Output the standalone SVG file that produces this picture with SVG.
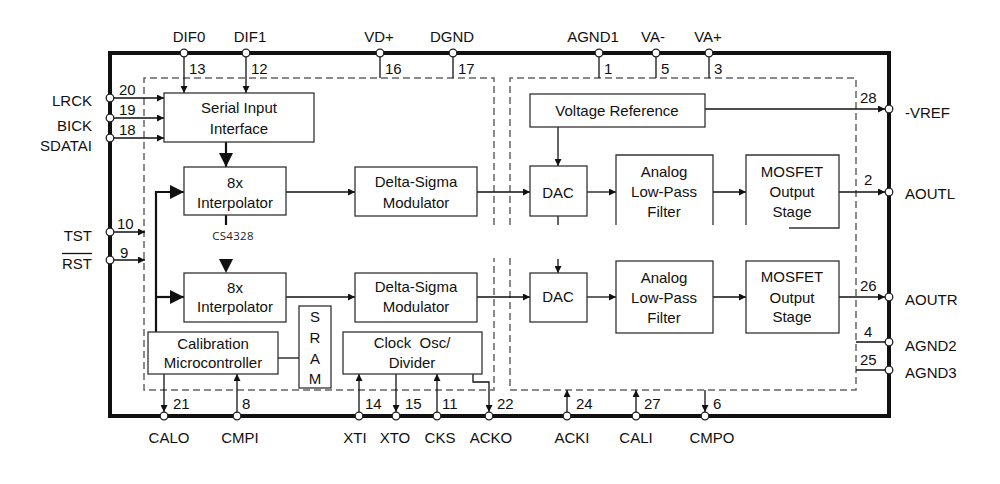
<svg xmlns="http://www.w3.org/2000/svg" width="1000" height="484" viewBox="0 0 1000 484">
<style>
text{font-family:"Liberation Sans",Arial,sans-serif;font-size:15px;fill:#111}
.m{text-anchor:middle}
.e{text-anchor:end}
.box{fill:none;stroke:#333;stroke-width:1.3}
.dash{fill:none;stroke:#666;stroke-width:1.5;stroke-dasharray:7,4}
.ln{fill:none;stroke:#111;stroke-width:1.3}
.thk{fill:none;stroke:#111;stroke-width:2.2}
.pin{fill:#fff;stroke:#222;stroke-width:1.3}
.small{font-family:"Open Sans","Noto Sans",sans-serif;font-size:11.5px;fill:#222;letter-spacing:0.3px}
</style>
<defs>
<marker id="a" viewBox="0 0 10 10" refX="10" refY="5" markerWidth="9" markerHeight="7" markerUnits="userSpaceOnUse" orient="auto"><path d="M0,0L10,5L0,10z" fill="#111"/></marker>
<marker id="A" viewBox="0 0 10 10" refX="10" refY="5" markerWidth="15" markerHeight="14" markerUnits="userSpaceOnUse" orient="auto"><path d="M0,0L10,5L0,10z" fill="#111"/></marker>
</defs>
<rect x="110" y="53" width="779" height="363" fill="none" stroke="#111" stroke-width="4"/>
<path class="dash" d="M494,225V78H144V390H494V258"/>
<path class="dash" d="M510,225V78H856V390H510V258"/>
<g id="connectors">
<path class="ln" d="M184,53V93" marker-end="url(#a)"/>
<path class="ln" d="M246,53V93" marker-end="url(#a)"/>
<path class="ln" d="M380,53V78"/>
<path class="ln" d="M453,53V78"/>
<path class="ln" d="M599,53V78"/>
<path class="ln" d="M656,53V78"/>
<path class="ln" d="M709,53V78"/>
<path class="ln" d="M110,98H164" marker-end="url(#a)"/>
<path class="ln" d="M110,118H164" marker-end="url(#a)"/>
<path class="ln" d="M110,138H164" marker-end="url(#a)"/>
<path class="ln" d="M110,232H145" marker-end="url(#a)"/>
<path class="ln" d="M110,260H145" marker-end="url(#a)"/>
<path class="thk" d="M226,142V167" marker-end="url(#A)"/>
<path class="thk" d="M156,332V192H184" marker-end="url(#A)"/>
<path class="thk" d="M156,297H184" marker-end="url(#A)"/>
<path class="thk" d="M226,215V225"/>
<polygon points="219,259 233,259 226,273" fill="#111"/>
<path class="ln" d="M286,192H355" marker-end="url(#a)"/>
<path class="ln" d="M477,192H530" marker-end="url(#a)"/>
<path class="ln" d="M587,192H616" marker-end="url(#a)"/>
<path class="ln" d="M713,192H746" marker-end="url(#a)"/>
<path class="ln" d="M839,192H885" marker-end="url(#a)"/>
<path class="ln" d="M286,297H355" marker-end="url(#a)"/>
<path class="ln" d="M477,297H530" marker-end="url(#a)"/>
<path class="ln" d="M587,297H616" marker-end="url(#a)"/>
<path class="ln" d="M713,297H746" marker-end="url(#a)"/>
<path class="ln" d="M839,297H885" marker-end="url(#a)"/>
<path class="ln" d="M558,127V166" marker-end="url(#a)"/>
<path class="ln" d="M705,109H885" marker-end="url(#a)"/>
<path class="ln" d="M558,216V225"/>
<path class="ln" d="M558,259V273" marker-end="url(#a)"/>
<path class="ln" d="M278,358H299"/>
<path class="ln" d="M164,374V412" marker-end="url(#a)"/>
<path class="ln" d="M237,416V374" marker-end="url(#a)"/>
<path class="ln" d="M359,416V374" marker-end="url(#a)"/>
<path class="ln" d="M396,374V412" marker-end="url(#a)"/>
<path class="ln" d="M437,416V374" marker-end="url(#a)"/>
<path class="ln" d="M473,374V382H489V412" marker-end="url(#a)"/>
<path class="ln" d="M567,416V390" marker-end="url(#a)"/>
<path class="ln" d="M636,416V390" marker-end="url(#a)"/>
<path class="ln" d="M705,390V412" marker-end="url(#a)"/>
<path class="ln" d="M856,342H889"/>
<path class="ln" d="M856,370H889"/>
</g>
<g id="serial"><rect class="box" x="164" y="93" width="150" height="49"/><text class="m" x="239" y="113">Serial Input</text><text class="m" x="239" y="134">Interface</text></g>
<g id="interp1"><rect class="box" x="184" y="167" width="102" height="48"/><text class="m" x="235" y="188">8x</text><text class="m" x="235" y="208">Interpolator</text><text class="small m" x="233" y="240">CS4328</text></g>
<g id="interp2"><rect class="box" x="184" y="273" width="102" height="49"/><text class="m" x="235" y="293">8x</text><text class="m" x="235" y="312">Interpolator</text></g>
<g id="ds1"><rect class="box" x="355" y="167" width="122" height="49"/><text class="m" x="416" y="187">Delta-Sigma</text><text class="m" x="416" y="208">Modulator</text></g>
<g id="ds2"><rect class="box" x="355" y="273" width="122" height="49"/><text class="m" x="416" y="292">Delta-Sigma</text><text class="m" x="416" y="312">Modulator</text></g>
<g id="dac1"><rect class="box" x="530" y="166" width="57" height="50"/><text class="m" x="558" y="198">DAC</text></g>
<g id="dac2"><rect class="box" x="530" y="273" width="57" height="49"/><text class="m" x="558" y="302">DAC</text></g>
<g id="vref"><rect class="box" x="530" y="94" width="175" height="33"/><text class="m" x="617" y="116">Voltage Reference</text></g>
<g id="alpf1"><path class="box" d="M616,225V155H713V225"/><text class="m" x="664" y="177">Analog</text><text class="m" x="664" y="197">Low-Pass</text><text class="m" x="664" y="217">Filter</text></g>
<g id="alpf2"><rect class="box" x="616" y="261" width="97" height="72"/><text class="m" x="664" y="283">Analog</text><text class="m" x="664" y="303">Low-Pass</text><text class="m" x="664" y="323">Filter</text></g>
<g id="mos1"><path class="box" d="M746,225V155H839V228H789"/><text class="m" x="792" y="177">MOSFET</text><text class="m" x="792" y="197">Output</text><text class="m" x="792" y="217">Stage</text></g>
<g id="mos2"><rect class="box" x="746" y="261" width="93" height="72"/><text class="m" x="792" y="282">MOSFET</text><text class="m" x="792" y="303">Output</text><text class="m" x="792" y="322">Stage</text></g>
<g id="cal"><rect class="box" x="148" y="332" width="130" height="42"/><text class="m" x="213" y="349">Calibration</text><text class="m" x="213" y="368">Microcontroller</text></g>
<g id="sram"><rect class="box" x="299" y="306" width="32" height="82"/><text class="m" x="315" y="322">S</text><text class="m" x="315" y="343">R</text><text class="m" x="315" y="364">A</text><text class="m" x="315" y="384">M</text></g>
<g id="clock"><rect class="box" x="343" y="332" width="139" height="42"/><text class="m" x="412" y="348" xml:space="preserve">Clock  Osc/</text><text class="m" x="412" y="368">Divider</text></g>
<g id="pins">
<circle class="pin" cx="184" cy="53" r="3.8"/><circle class="pin" cx="246" cy="53" r="3.8"/><circle class="pin" cx="380" cy="53" r="3.8"/><circle class="pin" cx="453" cy="53" r="3.8"/><circle class="pin" cx="599" cy="53" r="3.8"/><circle class="pin" cx="656" cy="53" r="3.8"/><circle class="pin" cx="709" cy="53" r="3.8"/>
<circle class="pin" cx="110" cy="98" r="3.8"/><circle class="pin" cx="110" cy="118" r="3.8"/><circle class="pin" cx="110" cy="138" r="3.8"/><circle class="pin" cx="110" cy="232" r="3.8"/><circle class="pin" cx="110" cy="260" r="3.8"/>
<circle class="pin" cx="889" cy="109" r="3.8"/><circle class="pin" cx="889" cy="192" r="3.8"/><circle class="pin" cx="889" cy="297" r="3.8"/><circle class="pin" cx="889" cy="342" r="3.8"/><circle class="pin" cx="889" cy="370" r="3.8"/>
<circle class="pin" cx="164" cy="416" r="3.8"/><circle class="pin" cx="237" cy="416" r="3.8"/><circle class="pin" cx="359" cy="416" r="3.8"/><circle class="pin" cx="396" cy="416" r="3.8"/><circle class="pin" cx="437" cy="416" r="3.8"/><circle class="pin" cx="489" cy="416" r="3.8"/><circle class="pin" cx="567" cy="416" r="3.8"/><circle class="pin" cx="636" cy="416" r="3.8"/><circle class="pin" cx="705" cy="416" r="3.8"/>
</g>
<g id="pinlabels">
<text class="m" x="189" y="42">DIF0</text><text class="m" x="250" y="42">DIF1</text><text class="m" x="379" y="42">VD+</text><text class="m" x="452" y="42">DGND</text><text class="m" x="593" y="42">AGND1</text><text class="m" x="653" y="42">VA-</text><text class="m" x="708" y="42">VA+</text>
<text x="189" y="74">13</text><text x="251" y="74">12</text><text x="385" y="74">16</text><text x="458" y="74">17</text><text x="604" y="74">1</text><text x="661" y="74">5</text><text x="714" y="74">3</text>
<text class="e" x="92" y="106">LRCK</text><text class="e" x="92" y="131">BICK</text><text class="e" x="92" y="151">SDATAI</text>
<text x="119" y="95">20</text><text x="119" y="115">19</text><text x="119" y="135">18</text>
<text class="e" x="92" y="241">TST</text><text class="e" x="92" y="269">RST</text><path d="M62,253.5H92" stroke="#111" stroke-width="1.3"/>
<text x="117" y="229">10</text><text x="120" y="258">9</text>
<text x="905" y="118">-VREF</text><text x="905" y="199">AOUTL</text><text x="905" y="305">AOUTR</text><text x="905" y="351">AGND2</text><text x="905" y="378">AGND3</text>
<text x="860" y="103">28</text><text x="864" y="185">2</text><text x="860" y="291">26</text><text x="864" y="337">4</text><text x="860" y="365">25</text>
<text x="173" y="409">21</text><text x="242" y="409">8</text><text x="365" y="409">14</text><text x="405" y="409">15</text><text x="442" y="409">11</text><text x="497" y="409">22</text><text x="576" y="409">24</text><text x="644" y="409">27</text><text x="713" y="409">6</text>
<text class="m" x="169" y="443">CALO</text><text class="m" x="240" y="443">CMPI</text><text class="m" x="355" y="443">XTI</text><text class="m" x="395" y="443">XTO</text><text class="m" x="440" y="443">CKS</text><text class="m" x="491" y="443">ACKO</text><text class="m" x="572" y="443">ACKI</text><text class="m" x="636" y="443">CALI</text><text class="m" x="712" y="443">CMPO</text>
</g>
</svg>
